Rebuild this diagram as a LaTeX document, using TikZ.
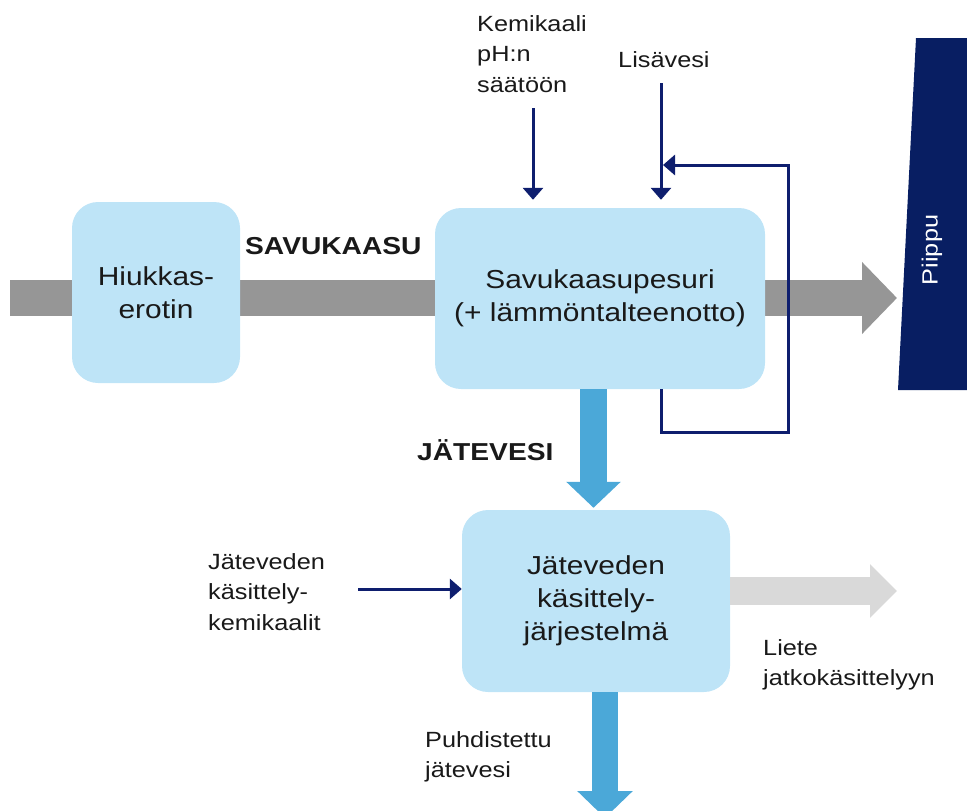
\documentclass[tikz,border=0pt]{standalone}
\usepackage{fontspec}
\setmainfont{Liberation Sans}[FakeStretch=1.15]
\usetikzlibrary{arrows.meta,calc}
\definecolor{boxblue}{RGB}{190,228,247}
\definecolor{navyline}{RGB}{14,30,110}
\definecolor{chimneycol}{RGB}{8,30,98}
\definecolor{gasgray}{RGB}{150,150,150}
\definecolor{sludgegray}{RGB}{217,217,217}
\definecolor{waterblue}{RGB}{75,168,216}
\definecolor{textcol}{RGB}{25,25,25}
\pgfdeclarelayer{bg}
\pgfsetlayers{bg,main}
\begin{document}
\begin{tikzpicture}[x=1pt,y=-1pt,
  box/.style={fill=boxblue, rounded corners=26pt, inner sep=0pt, align=center,
    font=\fontsize{26}{33}\selectfont, text=textcol},
  lab/.style={inner sep=0pt, align=left, anchor=west,
    font=\fontsize{22}{30.5}\selectfont, text=textcol},
  boldlab/.style={inner sep=0pt, anchor=base west,
    font=\fontsize{24.5}{30}\selectfont\bfseries, text=textcol},
  feed/.style={draw=navyline, line width=3pt, -{Triangle[length=12pt,width=20pt]}},
  feedline/.style={draw=navyline, line width=3pt},
  gasflow/.style={draw=gasgray, line width=36pt, -{Triangle[length=35pt,width=70pt]}},
  sludgeflow/.style={draw=sludgegray, line width=28pt, -{Triangle[length=27pt,width=52pt]}},
  water/.style={draw=waterblue, line width=27pt, -{Triangle[length=26pt,width=53pt]}},
  waterout/.style={draw=waterblue, line width=26pt, -{Triangle[length=27pt,width=54pt]}}
]
\useasboundingbox (0,0) rectangle (967,811);
\clip (0,0) rectangle (967,811);

% boxes
\node[box, minimum width=168pt, minimum height=181pt] (hiuk) at (156,292.5) {Hiukkas-\\erotin};
\node[box, minimum width=330pt, minimum height=181pt] (pesuri) at (600,298.5) {Savukaasupesuri\\(+ lämmöntalteenotto)};
\node[box, minimum width=268pt, minimum height=182pt] (jat) at (596,601) {Jäteveden\\käsittely-\\järjestelmä};

% chimney
\fill[chimneycol] (916,38) -- (967,38) -- (967,390) -- (898,390) -- cycle;
\node[rotate=90, text=white, inner sep=0pt, font=\fontsize{22}{26}\selectfont] (piippu) at (932,250) {Piippu};

% coordinates
\coordinate (gasin) at (10,298);
\coordinate (stacktip) at (897,298);
\coordinate (chemin) at (533,108);
\coordinate (waterin) at (661,83);
\coordinate (wchem) at (358,589);
\coordinate (sludge) at (897,591);
\coordinate (outlet) at (605,818);

% big flows (behind boxes)
\begin{pgfonlayer}{bg}
\draw[gasflow] (gasin) -- (stacktip);
\end{pgfonlayer}
\draw[water] ([xshift=-6.5pt]pesuri.south) -- ([xshift=-2.5pt,yshift=2pt]jat.north);
\draw[sludgeflow] ([yshift=10pt]jat.east) -- (sludge);
\draw[waterout] ([xshift=9pt]jat.south) -- (outlet);

% thin feeds
\draw[feed, shorten >=8pt] (chemin) -- (chemin |- pesuri.north);
\draw[feed, shorten >=8pt] (waterin) -- (waterin |- pesuri.north);
\draw[feedline] ([xshift=61pt]pesuri.south) |- (788,432) |- (675,165);
\draw[feed] (788,165) -- (663,165);
\draw[feed] (wchem) -- (wchem -| jat.west);

% labels
\node[lab] (kem) at (477,54) {Kemikaali\\pH:n\\säätöön};
\node[lab] (lisa) at (618,60) {Lisävesi};
\node[boldlab] (savu) at (245,254) {SAVUKAASU};
\node[boldlab] (jv) at (417,460) {JÄTEVESI};
\node[lab] (wchemlab) at (208,592) {Jäteveden\\käsittely-\\kemikaalit};
\node[lab] (liete) at (763,665) {Liete\\jatkokäsittelyyn};
\node[lab] (puhd) at (425,757) {Puhdistettu\\jätevesi};
\end{tikzpicture}
\end{document}
